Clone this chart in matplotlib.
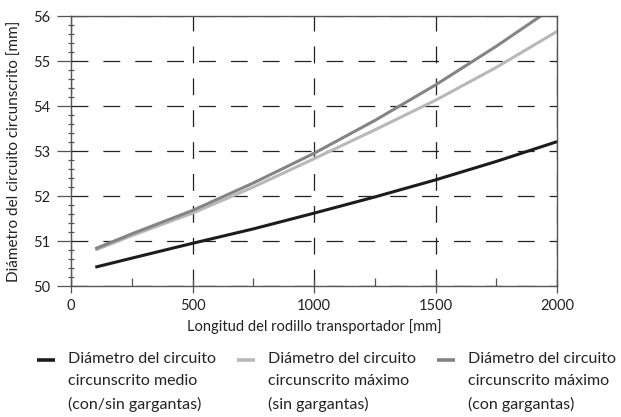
import numpy as np
import matplotlib.pyplot as plt
from matplotlib.ticker import MultipleLocator

plt.rcParams['font.family'] = ['Lato', 'DejaVu Sans']

# roller length [mm]
length = [100, 250, 500, 750, 1000, 1250, 1500, 1750, 2000]
# mean circumscribed diameter (with/without grooves)
d_mean = [50.42, 50.62, 50.95, 51.27, 51.62, 51.98, 52.36, 52.77, 53.21]
# max circumscribed diameter (without grooves)
d_max_plain = [50.80, 51.12, 51.62, 52.20, 52.83, 53.47, 54.13, 54.86, 55.66]
# max circumscribed diameter (with grooves)
d_max_groove = [50.83, 51.16, 51.68, 52.29, 52.95, 53.68, 54.47, 55.33, 56.25]

labels = ['Diámetro del circuito\ncircunscrito medio\n(con/sin gargantas)',
          'Diámetro del circuito\ncircunscrito máximo\n(sin gargantas)',
          'Diámetro del circuito\ncircunscrito máximo\n(con gargantas)']
colors = ['#1c1c1c', '#b8b8b8', '#848484']
text_c = '#222222'

fig = plt.figure(figsize=(6.21, 4.17), dpi=100)
ax = fig.add_axes([0.1143, 0.314, 0.783, 0.6476])

for y, c, lab in zip([d_mean, d_max_plain, d_max_groove], colors, labels):
    ax.plot(length, y, color=c, lw=2.2, label=lab, solid_capstyle='butt')

ax.set_xlim(0, 2000)
ax.set_ylim(50, 56)
ax.xaxis.set_major_locator(MultipleLocator(500))
ax.xaxis.set_minor_locator(MultipleLocator(250))
ax.yaxis.set_major_locator(MultipleLocator(1))
ax.yaxis.set_minor_locator(MultipleLocator(0.2))

ax.grid(True, which='major', color='#222222', lw=0.9, dashes=(13.5, 12))
ax.tick_params(which='both', color='#555555', labelsize=10.5,
               labelcolor=text_c, width=0.9)
ax.tick_params(axis='x', which='major', direction='inout', length=10, pad=4)
ax.tick_params(axis='x', which='minor', direction='in', length=6)
ax.tick_params(axis='y', which='major', direction='out', length=10, pad=5)
ax.tick_params(axis='y', which='minor', direction='inout', length=5)
for s in ax.spines.values():
    s.set_color('#555555')
    s.set_linewidth(1.0)

ax.set_xlabel('Longitud del rodillo transportador [mm]', fontsize=10.5,
              color=text_c)
ax.xaxis.set_label_coords(0.5, -0.122)
ax.set_ylabel('Diámetro del circuito circunscrito [mm]', fontsize=11,
              color=text_c)
ax.yaxis.set_label_coords(-0.102, 0.5)

leg = fig.legend(loc='upper left', bbox_to_anchor=(0.0596, 0.156), ncol=3,
                 frameon=False, fontsize=11.5, handlelength=1.15,
                 handletextpad=0.8, columnspacing=1.3, labelcolor=text_c,
                 borderaxespad=0, borderpad=0)
for t in leg.get_texts():
    t.set_linespacing(1.75)
# put each legend key level with the first line of its label
for ln in leg.get_lines():
    ln.set_ydata(np.asarray(ln.get_ydata()) + 15.8)
    ln.set_linewidth(2.6)

fig.savefig('out.png', dpi=100)
